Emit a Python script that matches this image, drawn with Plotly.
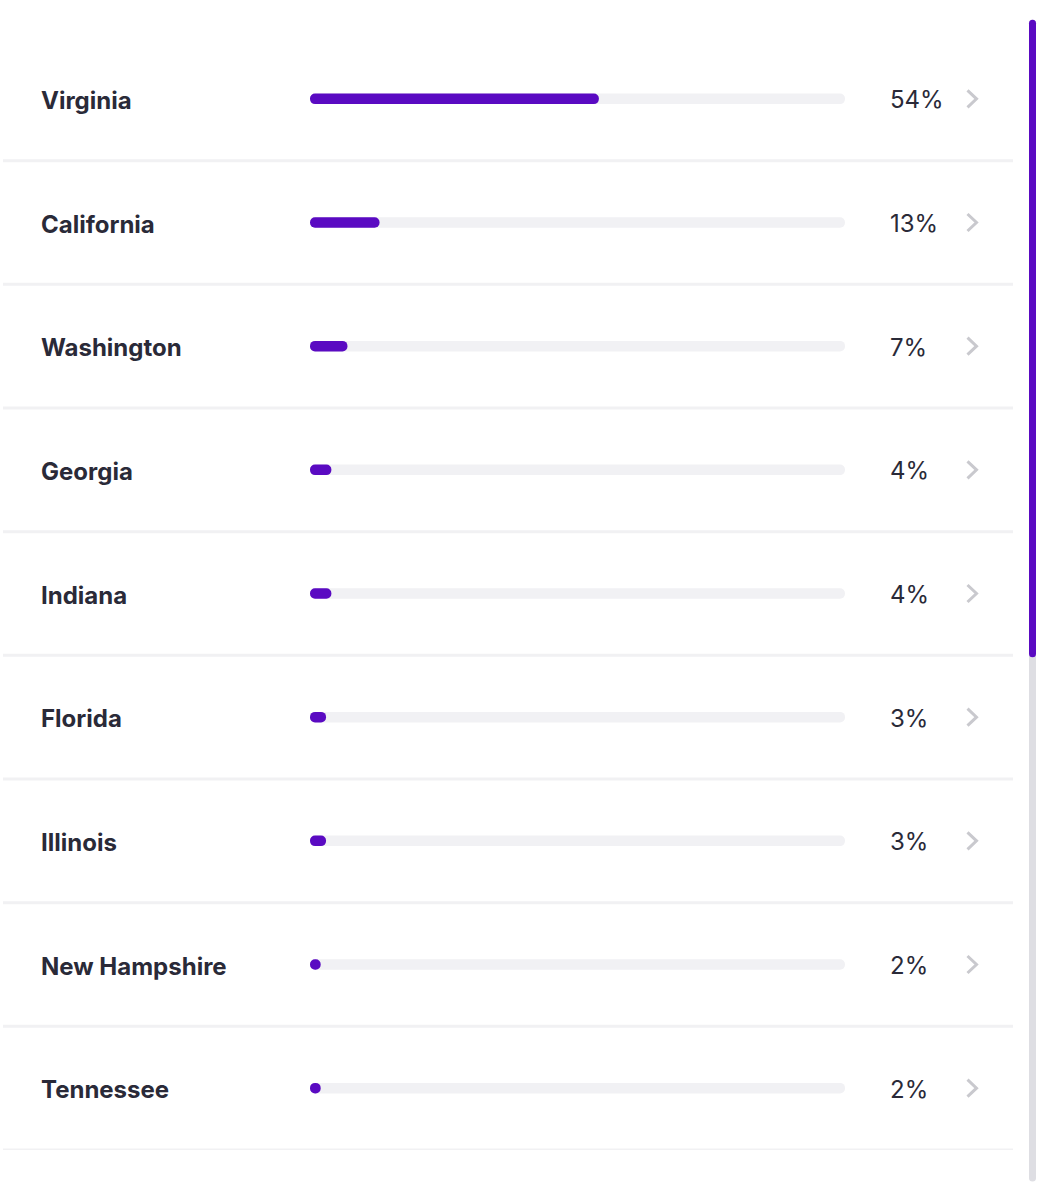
import plotly.graph_objects as go

states = ["Virginia", "California", "Washington", "Georgia", "Indiana",
          "Florida", "Illinois", "New Hampshire", "Tennessee"]
shares = [54, 13, 7, 4, 4, 3, 3, 2, 2]
pct_labels = ["54%", "13%", "7%", "4%", "4%", "3%", "3%", "2%", "2%"]
track_max = 100

W, H = 1041, 1200
PURPLE = "#5A0AC2"
TRACK = "#F1F1F4"
TEXT = "#2A2A38"
SEP = "#F1F1F3"
CHEV = "#C9C9CE"

row_px = 123.6
first_px = 99
top_px = first_px - row_px / 2
bot_px = first_px + row_px * (len(states) - 1) + row_px / 2
mt, mb = top_px, H - bot_px

x0_px, x1_px = 310, 845
thick_px = 10.5


def px_x(p):
    return p / W


def px_y(p):
    return (bot_px - p) / (bot_px - top_px)


ys = list(range(len(states)))
bw = thick_px / row_px


def pill(values, color, hover=None):
    """A floating bar (explicit base) gets both ends rounded."""
    return go.Bar(y=ys, x=values, base=[0] * len(values), orientation="h",
                  width=bw, marker=dict(color=color, cornerradius="50%", line=dict(width=0)),
                  hovertext=hover, hoverinfo="text" if hover else "skip")


fig = go.Figure()
fig.add_trace(pill([track_max] * len(states), TRACK))
fig.add_trace(pill(shares, PURPLE, hover=[f"{s}: {p}" for s, p in zip(states, pct_labels)]))

for i, (s, p) in enumerate(zip(states, pct_labels)):
    fig.add_annotation(x=px_x(38.5), xref="paper", y=i, yref="y", text=s, yshift=-1.5,
                       showarrow=False, xanchor="left", yanchor="middle",
                       font=dict(family="Inter", size=24, color=TEXT, weight=700))
    fig.add_annotation(x=px_x(888), xref="paper", y=i, yref="y", text=p, yshift=-1,
                       showarrow=False, xanchor="left", yanchor="middle",
                       font=dict(family="Inter", size=24, color=TEXT, weight=400))
    fig.add_shape(type="path", xref="paper", yref="y", xsizemode="pixel", ysizemode="pixel",
                  xanchor=px_x(972), yanchor=i,
                  path="M -4.5 8.5 L 4.5 0 L -4.5 -8.5",
                  line=dict(color=CHEV, width=3))
    fig.add_shape(type="line", xref="paper", yref="y", x0=px_x(3), x1=px_x(1013),
                  y0=i + 0.5, y1=i + 0.5, line=dict(color=SEP, width=3))


def vpill_path(x0p, x1p, y0p, y1p):
    """Rounded vertical bar in paper coords, given pixel bounds."""
    r = (x1p - x0p) / 2
    xl, xr, xm = px_x(x0p), px_x(x1p), px_x((x0p + x1p) / 2)
    yt, ytr = px_y(y0p), px_y(y0p + r)
    yb, ybr = px_y(y1p), px_y(y1p - r)
    return (f"M {xl} {ytr} Q {xl} {yt} {xm} {yt} Q {xr} {yt} {xr} {ytr} "
            f"L {xr} {ybr} Q {xr} {yb} {xm} {yb} Q {xl} {yb} {xl} {ybr} Z")


# scrollbar (track + thumb)
fig.add_shape(type="path", xref="paper", yref="paper", path=vpill_path(1029, 1036, 20, 1181),
              fillcolor="#DEDEE3", line=dict(width=0))
fig.add_shape(type="path", xref="paper", yref="paper", path=vpill_path(1029, 1036, 20, 657),
              fillcolor=PURPLE, line=dict(width=0))

fig.update_layout(
    width=W, height=H, autosize=False,
    margin=dict(l=0, r=0, t=mt, b=mb, pad=0),
    paper_bgcolor="white", plot_bgcolor="white",
    barmode="overlay", showlegend=False,
    xaxis=dict(domain=[px_x(x0_px), px_x(x1_px)], range=[0, track_max], visible=False,
               fixedrange=True),
    yaxis=dict(range=[len(states) - 0.5, -0.5], visible=False, fixedrange=True),
)

fig.write_html("out.html", config={"displayModeBar": False})
